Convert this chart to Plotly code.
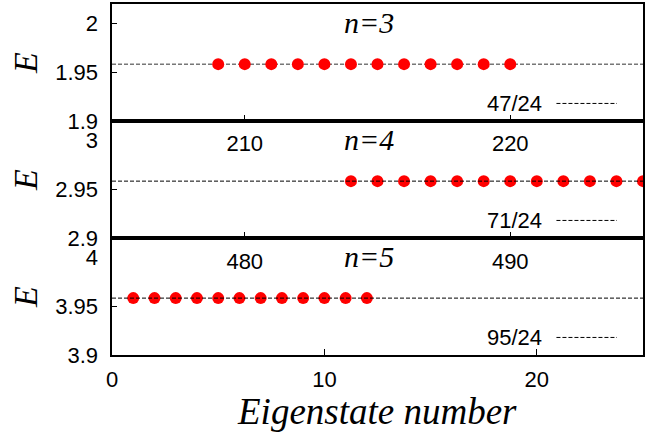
import plotly.graph_objects as go

# ---- data ----
n_labels = ["n=3", "n=4", "n=5"]
energy_labels = ["47/24", "71/24", "95/24"]
energies = [47 / 24, 71 / 24, 95 / 24]
states_n3 = [209, 210, 211, 212, 213, 214, 215, 216, 217, 218, 219, 220]
states_n4 = [214, 215, 216, 217, 218, 219, 220, 221, 222, 223, 224, 225]
states_n5 = [1, 2, 3, 4, 5, 6, 7, 8, 9, 10, 11, 12]
top_ticks_n4 = [210, 220]
top_ticks_n5 = [480, 490]
bottom_ticks = [0, 10, 20]
yticks_n3 = [1.9, 1.95, 2.0]
yticks_n4 = [2.9, 2.95, 3.0]
yticks_n5 = [3.9, 3.95, 4.0]
ytext_n3 = ["1.9", "1.95", "2"]
ytext_n4 = ["2.9", "2.95", "3"]
ytext_n5 = ["3.9", "3.95", "4"]

SANS = "Liberation Sans, Arial, sans-serif"
SERIF = "Liberation Serif, Times New Roman, serif"
TICKFONT = dict(family=SANS, size=22, color="black")

fig = go.Figure()

panels = [
    ("x3", "y3", states_n3, energies[0]),
    ("x2", "y2", states_n4, energies[1]),
    ("x", "y", states_n5, energies[2]),
]
for xa, ya, xs, e in panels:
    fig.add_trace(go.Scatter(
        x=xs, y=[e] * len(xs), xaxis=xa, yaxis=ya, mode="markers",
        marker=dict(color="#ff0000", size=12, line=dict(width=0)),
        showlegend=False, hoverinfo="skip"))

line_styles = [
    dict(color="#777777", width=1.5, dash="4px,2px"),
    dict(color="black", width=1, dash="4px,2px"),
    dict(color="black", width=1, dash="4px,2px"),
]
layers = ["below", "above", "above"]
for (xa, ya, xs, e), ls, lay, lab, nl in zip(panels, line_styles, layers, energy_labels, n_labels):
    xd = xa + " domain"
    yd = ya + " domain"
    fig.add_shape(type="line", xref=xd, yref=ya, x0=0, x1=1, y0=e, y1=e,
                  line=ls, layer=lay)
    fig.add_shape(type="line", xref=xd, yref=yd, x0=0.837, x1=0.951, y0=0.15, y1=0.15,
                  line=dict(color="black", width=1, dash="4px,2px"))
    fig.add_annotation(text=lab, xref=xd, yref=yd, x=0.758, y=0.15,
                       showarrow=False, xanchor="center", yanchor="middle",
                       font=dict(family=SANS, size=22, color="black"))
    fig.add_annotation(text=nl, xref=xd, yref=yd, x=0.484, y=0.845,
                       showarrow=False, xanchor="center", yanchor="middle",
                       font=dict(family=SERIF, size=30, color="black", style="italic"))
    fig.add_annotation(text="E", xref="paper", yref=yd, x=-0.163, y=0.5,
                       showarrow=False, xanchor="center", yanchor="middle", textangle=-90,
                       font=dict(family=SERIF, size=34, color="black", style="italic"))

fig.add_annotation(text="Eigenstate number", xref="paper", yref="paper", x=0.499, y=-0.162,
                   showarrow=False, xanchor="center", yanchor="middle",
                   font=dict(family=SERIF, size=37, color="black", style="italic"))

common_x = dict(showgrid=False, zeroline=False, showline=True, linecolor="black",
                linewidth=2, mirror=True, ticks="inside", ticklen=6, tickwidth=1,
                tickcolor="black", tickfont=TICKFONT)
common_y = dict(showgrid=False, zeroline=False, showline=True, linecolor="black",
                linewidth=1.5, mirror=True, ticks="inside", ticklen=5, tickwidth=1,
                tickcolor="black", showticklabels=False)
label_y = dict(showgrid=False, zeroline=False, showline=False, ticks="",
               anchor="free", position=0, tickfont=TICKFONT, ticklabelstandoff=14)
label_x = dict(side="top", ticks="", showline=False, showgrid=False, zeroline=False,
               ticklabelposition="inside", tickfont=TICKFONT)

fig.update_layout(
    width=645, height=435,
    margin=dict(l=112, r=0, t=4, b=80),
    plot_bgcolor="white", paper_bgcolor="white",
    xaxis=dict(common_x, domain=[0, 1], anchor="y", range=[0, 25], tickvals=bottom_ticks,
               ticklabelstandoff=4),
    xaxis2=dict(common_x, domain=[0, 1], anchor="y2", range=[205, 225], tickvals=top_ticks_n4,
                showticklabels=False),
    xaxis3=dict(common_x, domain=[0, 1], anchor="y3", range=[205, 225], tickvals=top_ticks_n4,
                showticklabels=False),
    xaxis4=dict(label_x, overlaying="x", anchor="y", range=[475, 495],
                tickvals=top_ticks_n5, ticklabelstandoff=13),
    xaxis5=dict(label_x, overlaying="x2", anchor="y2", range=[205, 225],
                tickvals=top_ticks_n4, ticklabelstandoff=12),
    yaxis=dict(common_y, domain=[0, 1 / 3], anchor="x", range=[3.9, 4.02], tickvals=yticks_n5),
    yaxis2=dict(common_y, domain=[1 / 3, 2 / 3], anchor="x2", range=[2.9, 3.02], tickvals=yticks_n4),
    yaxis3=dict(common_y, domain=[2 / 3, 1], anchor="x3", range=[1.9, 2.02], tickvals=yticks_n3),
    yaxis4=dict(label_y, overlaying="y", range=[3.9, 4.02], tickvals=yticks_n5, ticktext=ytext_n5),
    yaxis5=dict(label_y, overlaying="y2", range=[2.9, 3.02], tickvals=yticks_n4, ticktext=ytext_n4),
    yaxis6=dict(label_y, overlaying="y3", range=[1.9, 2.02], tickvals=yticks_n3, ticktext=ytext_n3),
)
# empty traces so the overlaid label axes are drawn
for xa, ya in [("x4", "y"), ("x5", "y2"), ("x", "y4"), ("x2", "y5"), ("x3", "y6")]:
    fig.add_trace(go.Scatter(x=[None], y=[None], xaxis=xa, yaxis=ya,
                             showlegend=False, hoverinfo="skip"))

fig.write_html("out.html")
